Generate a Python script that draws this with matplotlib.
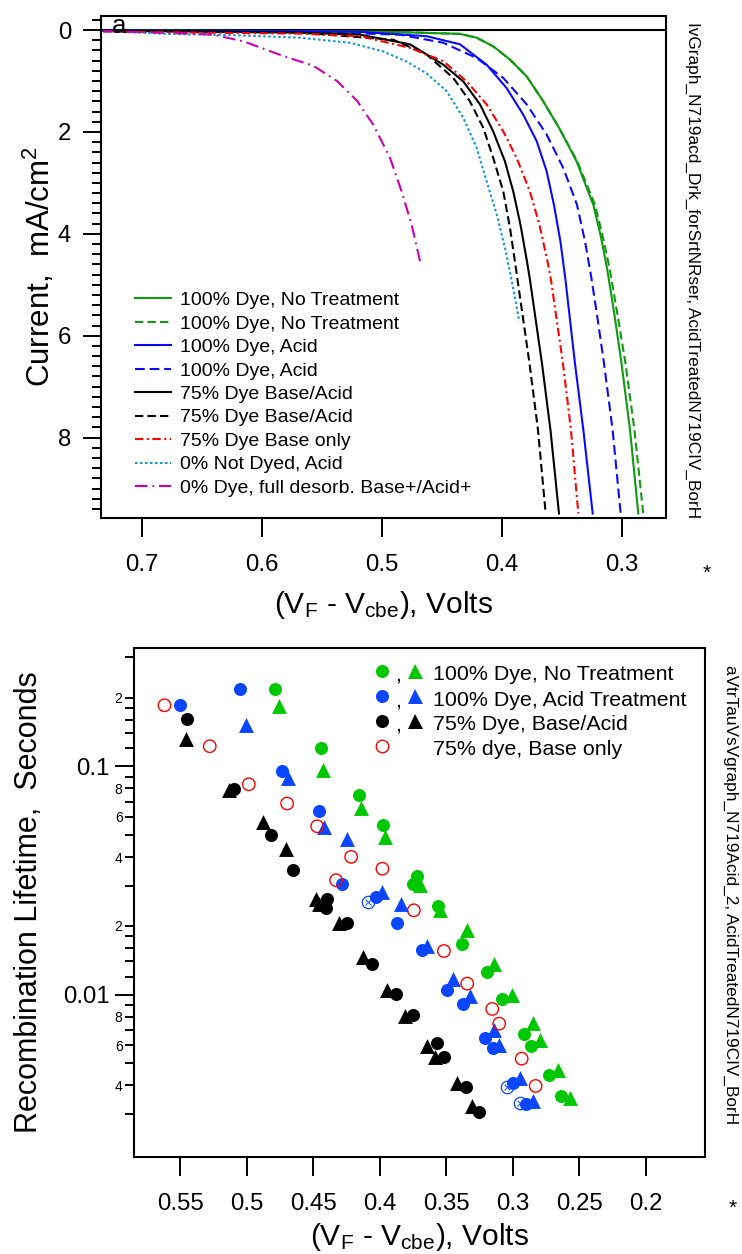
import matplotlib
matplotlib.use('Agg')
import matplotlib.pyplot as plt
from matplotlib.lines import Line2D
import numpy as np

plt.rcParams['font.family'] = ['Liberation Sans', 'DejaVu Sans']
plt.rcParams['mathtext.default'] = 'regular'
plt.rcParams['lines.scale_dashes'] = False

# ---------------- panel a : dark I-V curves ----------------
# voltage (V_F - V_cbe) and current (mA/cm2)
gs_v = [0.7323, 0.5683, 0.485, 0.435, 0.4211, 0.4073, 0.3933, 0.3794, 0.3656, 0.3517, 0.3378, 0.3239, 0.3179, 0.3125, 0.3067, 0.3004, 0.2933, 0.2864]
gs_i = [0.01, 0.02, 0.04, 0.075, 0.15, 0.32, 0.58, 0.91, 1.40, 1.95, 2.58, 3.43, 4.02, 4.67, 5.52, 6.54, 7.85, 9.49]
gd_v = [0.7323, 0.5683, 0.485, 0.435, 0.4211, 0.4073, 0.3933, 0.3794, 0.3656, 0.3517, 0.3372, 0.3225, 0.3163, 0.3104, 0.3042, 0.2971, 0.2896, 0.2823]
gd_i = [0.01, 0.02, 0.04, 0.075, 0.15, 0.32, 0.58, 0.91, 1.40, 1.95, 2.58, 3.43, 4.02, 4.67, 5.52, 6.54, 7.85, 9.49]
bs_v = [0.7323, 0.5683, 0.5183, 0.4628, 0.435, 0.4128, 0.3961, 0.3823, 0.3711, 0.3628, 0.3567, 0.3513, 0.3471, 0.3392, 0.3322, 0.3244]
bs_i = [0.01, 0.02, 0.035, 0.12, 0.28, 0.68, 1.14, 1.66, 2.18, 2.77, 3.43, 4.15, 4.90, 6.54, 7.85, 9.49]
bd_v = [0.7323, 0.5683, 0.485, 0.4489, 0.4211, 0.3989, 0.3794, 0.3628, 0.3489, 0.3375, 0.3308, 0.3254, 0.3208, 0.315, 0.3078, 0.3011]
bd_i = [0.01, 0.03, 0.09, 0.25, 0.55, 0.94, 1.46, 2.05, 2.71, 3.43, 4.15, 4.88, 5.59, 6.54, 7.85, 9.49]
ks_v = [0.7323, 0.5683, 0.5183, 0.4767, 0.4489, 0.4322, 0.4183, 0.4073, 0.3975, 0.3906, 0.3846, 0.3792, 0.3767, 0.3667, 0.3596, 0.3525]
ks_i = [0.01, 0.05, 0.09, 0.28, 0.68, 1.01, 1.46, 1.99, 2.58, 3.17, 3.82, 4.54, 4.9, 6.54, 7.85, 9.49]
kd_v = [0.7323, 0.5683, 0.4906, 0.4628, 0.4406, 0.4267, 0.4156, 0.4073, 0.3989, 0.3933, 0.3888, 0.3771, 0.37, 0.3636]
kd_i = [0.01, 0.05, 0.19, 0.48, 0.94, 1.40, 1.92, 2.51, 3.17, 3.89, 4.61, 6.54, 7.85, 9.49]
r_v = [0.7323, 0.6517, 0.5683, 0.5183, 0.4767, 0.4489, 0.4294, 0.4128, 0.3989, 0.3878, 0.3767, 0.3688, 0.3621, 0.3592, 0.3492, 0.3425, 0.3364]
r_i = [0.03, 0.05, 0.07, 0.12, 0.35, 0.61, 1.01, 1.46, 1.99, 2.51, 3.17, 3.82, 4.54, 4.9, 6.54, 7.85, 9.49]
c_v = [0.7323, 0.6794, 0.6239, 0.5683, 0.5267, 0.4989, 0.4794, 0.4628, 0.4461, 0.4323, 0.4211, 0.4128, 0.4044, 0.3975, 0.3917, 0.3871, 0.3856]
c_i = [0.02, 0.075, 0.10, 0.15, 0.25, 0.42, 0.62, 0.85, 1.20, 1.72, 2.31, 2.97, 3.62, 4.28, 4.94, 5.52, 5.72]
m_v = [0.7323, 0.6794, 0.6408, 0.6156, 0.5822, 0.5573, 0.5375, 0.5211, 0.5072, 0.4933, 0.4836, 0.4753, 0.4683]
m_i = [0.02, 0.055, 0.09, 0.22, 0.51, 0.70, 1.0, 1.38, 1.86, 2.51, 3.17, 3.82, 4.54]

iv_labels = ['100% Dye, No Treatment', '100% Dye, No Treatment', '100% Dye, Acid', '100% Dye, Acid',
             '75% Dye Base/Acid', '75% Dye Base/Acid', '75% Dye Base only', '0% Not Dyed, Acid',
             '0% Dye, full desorb. Base+/Acid+']

# ---------------- panel b : recombination lifetime ----------------
g_circ_v = [0.4788, 0.4445, 0.4159, 0.3979, 0.3723, 0.3749, 0.3566, 0.3381, 0.3197, 0.3080, 0.2917, 0.2867, 0.2729, 0.2641]
g_circ_t = [0.217, 0.1203, 0.0746, 0.0555, 0.0330, 0.0306, 0.02436, 0.01673, 0.01256, 0.00954, 0.00675, 0.00595, 0.00443, 0.00358]
g_tri_v = [0.4760, 0.4428, 0.4144, 0.3964, 0.3699, 0.3548, 0.3343, 0.3142, 0.3009, 0.2847, 0.2797, 0.2659, 0.2571]
g_tri_t = [0.1832, 0.0960, 0.0659, 0.0490, 0.0301, 0.0234, 0.01913, 0.01367, 0.00993, 0.00751, 0.00635, 0.00469, 0.00352]
b_circ_v = [0.55, 0.5051, 0.4738, 0.4458, 0.4283, 0.4029, 0.3874, 0.3686, 0.3498, 0.3373, 0.3208, 0.3152, 0.3002, 0.2904]
b_circ_t = [0.185, 0.2189, 0.0950, 0.0637, 0.0304, 0.0268, 0.0206, 0.01563, 0.01044, 0.00907, 0.00648, 0.00586, 0.0041, 0.00331]
b_tri_v = [0.5001, 0.4691, 0.4420, 0.4249, 0.3984, 0.3840, 0.3644, 0.3448, 0.3323, 0.3142, 0.3103, 0.2947, 0.2847]
b_tri_t = [0.1512, 0.0889, 0.0542, 0.0482, 0.0281, 0.0250, 0.01633, 0.01175, 0.00983, 0.00698, 0.00599, 0.00433, 0.00342]
b_open_v = [0.4086, 0.3047, 0.2947]
b_open_t = [0.02537, 0.00394, 0.00335]
k_circ_v = [0.5447, 0.5096, 0.4816, 0.4651, 0.4400, 0.4407, 0.4245, 0.4056, 0.3879, 0.3753, 0.3573, 0.3518, 0.3355, 0.3253]
k_circ_t = [0.1618, 0.0793, 0.0499, 0.0353, 0.0263, 0.0239, 0.0205, 0.01367, 0.01003, 0.00811, 0.00614, 0.00533, 0.00394, 0.00306]
k_tri_v = [0.5459, 0.5134, 0.4876, 0.4708, 0.4482, 0.4458, 0.4307, 0.4125, 0.3949, 0.3811, 0.3648, 0.3586, 0.3423, 0.3310]
k_tri_t = [0.1313, 0.0785, 0.0570, 0.0433, 0.0261, 0.0250, 0.0205, 0.0146, 0.01052, 0.00803, 0.00594, 0.00533, 0.0041, 0.00324]
r_open_v = [0.5617, 0.5277, 0.4984, 0.4696, 0.4470, 0.4328, 0.4215, 0.3980, 0.3744, 0.3518, 0.3343, 0.3155, 0.3103, 0.2934, 0.2829]
r_open_t = [0.185, 0.1224, 0.0834, 0.0687, 0.0546, 0.0317, 0.0401, 0.0356, 0.0234, 0.01552, 0.01117, 0.00865, 0.00746, 0.00524, 0.00398]

tau_labels = ['100% Dye, No Treatment', '100% Dye, Acid Treatment', '75% Dye, Base/Acid', '75% dye, Base only']

fig = plt.figure(figsize=(7.42, 12.54), dpi=100)

# ---------------- top panel ----------------
ax1 = fig.add_axes([0.1361, 0.5869, 0.7615, 0.4003])
green1 = '#109a10'
ax1.axhline(0, color='k', lw=1.5, zorder=1)
ax1.plot(gs_v, gs_i, color=green1, lw=1.5, label=iv_labels[0])
ax1.plot(gd_v, gd_i, color=green1, lw=1.5, ls=(0, (6, 3)), label=iv_labels[1])
ax1.plot(bs_v, bs_i, color='#0a0aff', lw=1.5, label=iv_labels[2])
ax1.plot(bd_v, bd_i, color='#0a0aff', lw=1.5, ls=(0, (7, 3.5)), label=iv_labels[3])
ax1.plot(ks_v, ks_i, color='k', lw=1.5, label=iv_labels[4])
ax1.plot(kd_v, kd_i, color='k', lw=1.5, ls=(0, (6, 3)), label=iv_labels[5])
ax1.plot(r_v, r_i, color='#ff0000', lw=1.5, ls=(0, (6, 2.5, 1.5, 2.5)), label=iv_labels[6])
ax1.plot(c_v, c_i, color='#1196d8', lw=1.5, ls=(0, (1.8, 1.8)), label=iv_labels[7])
ax1.plot(m_v, m_i, color='#cc00b0', lw=1.5, ls=(0, (9, 3.5, 1.3, 3.5)), label=iv_labels[8])

ax1.set_xlim(0.7342, 0.2633)
ax1.set_ylim(9.578, -0.275)
ax1.set_xticks([0.7, 0.6, 0.5, 0.4, 0.3])
ax1.set_yticks([0, 2, 4, 6, 8])
ax1.set_yticks(np.arange(-0.2, 9.5, 0.2), minor=True)
ax1.tick_params(which='both', direction='out', top=False, right=False, width=1.4)
ax1.tick_params(axis='y', which='major', length=13, pad=8.5, labelsize=17.3)
ax1.tick_params(axis='y', which='minor', length=6.5)
ax1.tick_params(axis='x', which='major', length=13.7, pad=12.5, labelsize=17.3)
for s in ax1.spines.values():
    s.set_linewidth(1.5)

ax1.set_xlabel(r'(V$_F$ - V$_{cbe}$), Volts', fontsize=21.5)
ax1.xaxis.label.set_verticalalignment('baseline')
ax1.xaxis.set_label_coords(0.5, -0.1892)
ax1.set_ylabel(r'Current,  mA/cm$^2$', fontsize=22.5)
ax1.yaxis.label.set_verticalalignment('baseline')
ax1.yaxis.set_label_coords(-0.0903, 0.5)

ax1.text(0.019, 0.966, 'a', transform=ax1.transAxes, fontsize=18.5, va='baseline', ha='left')

ax1.legend(loc='upper left', bbox_to_anchor=(0.06, 0.451), frameon=False, fontsize=14,
           handlelength=1.85, handletextpad=0.46, labelspacing=0.3, borderpad=0, borderaxespad=0)

fig.text(693 / 742, 1 - 22 / 1254, 'IvGraph_N719acd_Drk_forSrtNRser, AcidTreatedN719CIV_BorH',
         rotation=270, rotation_mode='anchor', ha='left', va='center', fontsize=12.45)
fig.text(707 / 742, 1 - 573 / 1254, '*', ha='center', va='center', fontsize=15)

# ---------------- bottom panel ----------------
ax2 = fig.add_axes([0.1806, 0.07735, 0.7695, 0.4059])
ax2.set_yscale('log')
green2 = '#00c800'
blue2 = '#0a46ff'
ax2.scatter(g_tri_v, g_tri_t, marker='^', s=115, color=green2, lw=0, zorder=3)
ax2.scatter(g_circ_v, g_circ_t, marker='o', s=88, color=green2, lw=0, zorder=3)
ax2.scatter(b_tri_v, b_tri_t, marker='^', s=115, color=blue2, lw=0, zorder=3)
ax2.scatter(b_circ_v, b_circ_t, marker='o', s=88, color=blue2, lw=0, zorder=3)
ax2.scatter(b_open_v, b_open_t, marker='o', s=80, facecolors='white', edgecolors=blue2, lw=0.9, zorder=2)
ax2.scatter(b_open_v, b_open_t, marker='x', s=18, color=blue2, lw=0.7, zorder=2)
ax2.scatter(k_tri_v, k_tri_t, marker='^', s=115, color='k', lw=0, zorder=3)
ax2.scatter(k_circ_v, k_circ_t, marker='o', s=88, color='k', lw=0, zorder=3)
ax2.scatter(r_open_v, r_open_t, marker='o', s=80, facecolors='none', edgecolors='#ff0000', lw=1.0, zorder=4)

ax2.set_xlim(0.5846, 0.1557)
ax2.set_ylim(0.001944, 0.3296)
xt = [0.55, 0.5, 0.45, 0.4, 0.35, 0.3, 0.25, 0.2]
ax2.set_xticks(xt, labels=['0.55', '0.5', '0.45', '0.4', '0.35', '0.3', '0.25', '0.2'])
ax2.set_yticks([0.01, 0.1], labels=['0.01', '0.1'])
minor_t = [0.003, 0.004, 0.005, 0.006, 0.007, 0.008, 0.009,
           0.012, 0.014, 0.016, 0.018, 0.02, 0.03, 0.04, 0.05, 0.06, 0.07, 0.08, 0.09,
           0.12, 0.14, 0.16, 0.18, 0.2, 0.3]
minor_l = ['', '4', '', '6', '', '8', '',
           '', '', '', '', '2', '', '4', '', '6', '', '8', '',
           '', '', '', '', '2', '']
ax2.set_yticks(minor_t, labels=minor_l, minor=True)
ax2.xaxis.set_minor_locator(matplotlib.ticker.NullLocator())
ax2.tick_params(which='both', direction='out', top=False, right=False, width=1.4)
ax2.tick_params(axis='y', which='major', length=13.7, pad=3.6, labelsize=17.3)
ax2.tick_params(axis='y', which='minor', length=6.5, pad=1.7, labelsize=10)
ax2.tick_params(axis='x', which='major', length=13.7, pad=12, labelsize=17.3)
for s in ax2.spines.values():
    s.set_linewidth(1.5)

ax2.set_xlabel(r'(V$_F$ - V$_{cbe}$), Volts', fontsize=21.5)
ax2.xaxis.label.set_verticalalignment('baseline')
ax2.xaxis.set_label_coords(0.5, -0.1735)
ax2.set_ylabel('Recombination Lifetime,  Seconds', fontsize=22)
ax2.yaxis.label.set_verticalalignment('baseline')
ax2.yaxis.set_label_coords(-0.1705, 0.5)

# legend drawn as rows of markers + text
rows_y = [0.9556, 0.905, 0.857, 0.808]
row_cols = [green2, blue2, 'k']
for k in range(3):
    ax2.add_line(Line2D([0.434], [rows_y[k]], marker='o', ms=9.4, mew=0, color=row_cols[k],
                        transform=ax2.transAxes, clip_on=False))
    ax2.text(0.462, rows_y[k] - 0.019, ',', transform=ax2.transAxes, fontsize=15.4, ha='center', va='baseline')
    ax2.add_line(Line2D([0.4925], [rows_y[k]], marker='^', ms=10.8, mew=0, color=row_cols[k],
                        transform=ax2.transAxes, clip_on=False))
ax2.add_line(Line2D([0.434], [rows_y[3]], marker='o', ms=9, mew=1.0, mfc='none', mec='#ff0000',
                    transform=ax2.transAxes, clip_on=False))
for k in range(4):
    ax2.text(0.524, rows_y[k] - 0.019, tau_labels[k], transform=ax2.transAxes, fontsize=15.4,
             ha='left', va='baseline')

fig.text(731 / 742, 1 - 665 / 1254, 'aVtrTauVsVgraph_N719Acid_2, AcidTreatedN719CIV_BorH',
         rotation=270, rotation_mode='anchor', ha='left', va='center', fontsize=12.4)
fig.text(733 / 742, 1 - 1208 / 1254, '*', ha='center', va='center', fontsize=15)

fig.savefig('out.png', dpi=100)
